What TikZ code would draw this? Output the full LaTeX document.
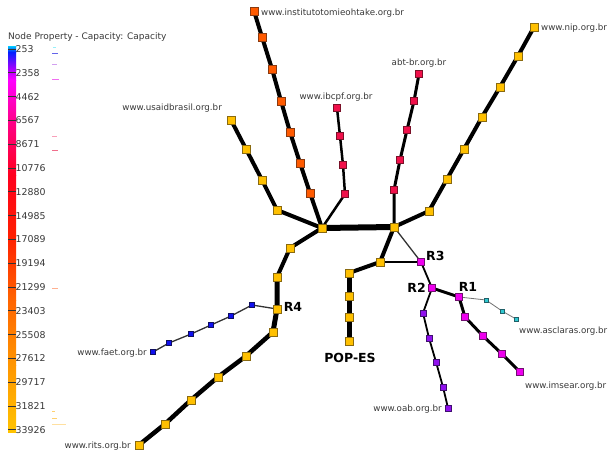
\documentclass[tikz,border=0pt]{standalone}
\usepackage{fontspec}
\setmainfont{DejaVu Sans}
\usetikzlibrary{backgrounds}

\definecolor{cAmber}{HTML}{FFC000}
\definecolor{cAmberD}{HTML}{8A6A10}
\definecolor{cOrange}{HTML}{FF5A00}
\definecolor{cOrangeD}{HTML}{8A3A10}
\definecolor{cRed}{HTML}{F0104A}
\definecolor{cRedD}{HTML}{7A1028}
\definecolor{cMag}{HTML}{EE00EE}
\definecolor{cMagD}{HTML}{701070}
\definecolor{cViol}{HTML}{9010EE}
\definecolor{cViolD}{HTML}{401070}
\definecolor{cBlue}{HTML}{1010EE}
\definecolor{cBlueD}{HTML}{101060}
\definecolor{cCyan}{HTML}{30C8D0}
\definecolor{cCyanD}{HTML}{206068}
\definecolor{cText}{HTML}{383838}

\begin{document}
\begin{tikzpicture}[x=1pt,y=-1pt,
  sq/.style={rectangle, inner sep=0pt, line width=0.5pt},
  ny/.style={sq, minimum size=8.5pt, fill=cAmber, draw=cAmberD},
  no/.style={sq, minimum size=8pt, fill=cOrange, draw=cOrangeD},
  nr/.style={sq, minimum size=7pt, fill=cRed, draw=cRedD},
  nm/.style={sq, minimum size=7pt, fill=cMag, draw=cMagD},
  nv/.style={sq, minimum size=6pt, fill=cViol, draw=cViolD},
  nb/.style={sq, minimum size=5pt, fill=cBlue, draw=cBlueD},
  nc/.style={sq, minimum size=4.5pt, fill=cCyan, draw=cCyanD},
  lbl/.style={font=\fontsize{8.7}{9.5}\selectfont, text=cText, inner sep=0pt},
  leg/.style={font=\fontsize{9.4}{10.5}\selectfont, text=cText, inner sep=0pt, anchor=west},
  rlab/.style={font=\fontsize{12.5}{14}\selectfont\bfseries, inner sep=0pt},
  link/.style={draw=black, line join=round, line cap=round},
  wXL/.style={link, line width=6pt},
  wL/.style={link, line width=5pt},
  wLM/.style={link, line width=4.5pt},
  wM/.style={link, line width=4pt},
  wMS/.style={link, line width=3pt},
  wS/.style={link, line width=2.5pt},
  wXS/.style={link, line width=1.8pt},
  wT/.style={link, line width=1.3pt, draw=black!80},
  wH/.style={link, line width=0.8pt, draw=black!55},
  tick/.style={draw=black!80, line width=0.9pt},
  hist/.style={line width=1pt}
]
\useasboundingbox (0,0) rectangle (610,455);

% ---------- colour scale legend ----------
\node[leg, font=\fontsize{9}{10}\selectfont] (ltitle) at (8,37) {Node Property - Capacity: Capacity};
\shade[top color={rgb,255:red,0;green,204;blue,255}, bottom color={rgb,255:red,0;green,32;blue,255}] (8,46) rectangle (16,52);
\shade[top color={rgb,255:red,0;green,32;blue,255}, bottom color={rgb,255:red,160;green,0;blue,255}] (8,52) rectangle (16,68);
\shade[top color={rgb,255:red,160;green,0;blue,255}, bottom color={rgb,255:red,255;green,0;blue,255}] (8,68) rectangle (16,80);
\shade[top color={rgb,255:red,255;green,0;blue,255}, bottom color={rgb,255:red,255;green,0;blue,140}] (8,80) rectangle (16,120);
\shade[top color={rgb,255:red,255;green,0;blue,140}, bottom color={rgb,255:red,255;green,0;blue,30}] (8,120) rectangle (16,175);
\shade[top color={rgb,255:red,255;green,0;blue,30}, bottom color={rgb,255:red,255;green,30;blue,0}] (8,175) rectangle (16,235);
\shade[top color={rgb,255:red,255;green,30;blue,0}, bottom color={rgb,255:red,255;green,100;blue,0}] (8,235) rectangle (16,300);
\shade[top color={rgb,255:red,255;green,100;blue,0}, bottom color={rgb,255:red,255;green,150;blue,0}] (8,300) rectangle (16,365);
\shade[top color={rgb,255:red,255;green,150;blue,0}, bottom color={rgb,255:red,255;green,195;blue,0}] (8,365) rectangle (16,432);
\foreach \v [count=\i from 0] in {253,2358,4462,6567,8671,10776,12880,14985,17089,19194,21299,23403,25508,27612,29717,31821,33926}{
  \draw[tick] (8,49+\i*23.8) -- (16,49+\i*23.8);
  \node[leg] (lv\i) at (15.5,49+\i*23.8) {\v};
}
% value marks beside the scale
\draw[hist, draw={rgb,255:red,150;green,240;blue,250}] (53,47) -- (56,47);
\draw[hist, draw={rgb,255:red,100;green,100;blue,235}] (52,53) -- (58,53);
\draw[hist, draw={rgb,255:red,210;green,160;blue,240}] (52,64) -- (57,64);
\draw[hist, draw={rgb,255:red,240;green,110;blue,240}] (52,79) -- (59,79);
\draw[hist, draw={rgb,255:red,248;green,160;blue,185}] (52,136) -- (57,136);
\draw[hist, draw={rgb,255:red,240;green,110;blue,140}] (52,150) -- (58,150);
\draw[hist, draw={rgb,255:red,255;green,176;blue,144}] (52,288) -- (58,288);
\draw[hist, draw={rgb,255:red,255;green,208;blue,112}] (52,411) -- (55,411);
\draw[hist, draw={rgb,255:red,255;green,208;blue,112}] (52,418) -- (57,418);
\draw[hist, draw={rgb,255:red,255;green,224;blue,160}] (52,424) -- (66,424);

% ---------- network nodes ----------
\node[ny] (hA) at (322,228) {};
\node[ny] (hB) at (394,227) {};
% institutotomieohtake branch
\node[no] (i1) at (254,11) {};
\node[no] (i2) at (262,37) {};
\node[no] (i3) at (272,69) {};
\node[no] (i4) at (281,101) {};
\node[no] (i5) at (290,132) {};
\node[no] (i6) at (300,163) {};
\node[no] (i7) at (310,193) {};
% usaidbrasil branch
\node[ny] (u1) at (231,120) {};
\node[ny] (u2) at (246,149) {};
\node[ny] (u3) at (262,180) {};
\node[ny] (u4) at (277,210) {};
% ibcpf branch
\node[nr] (b1) at (337,108) {};
\node[nr] (b2) at (340,136) {};
\node[nr] (b3) at (343,165) {};
\node[nr] (b4) at (345,194) {};
% abt-br branch
\node[nr] (a1) at (419,74) {};
\node[nr] (a2) at (414,101) {};
\node[nr] (a3) at (407,130) {};
\node[nr] (a4) at (400,160) {};
\node[nr] (a5) at (394,190) {};
% nip branch
\node[ny] (n1) at (534,27) {};
\node[ny] (n2) at (518,56) {};
\node[ny] (n3) at (500,87) {};
\node[ny] (n4) at (482,117) {};
\node[ny] (n5) at (464,149) {};
\node[ny] (n6) at (447,179) {};
\node[ny] (n7) at (429,211) {};
% R4 trunk and rits branch
\node[ny] (l1) at (290,248) {};
\node[ny] (l2) at (277,277) {};
\node[ny] (r4) at (277,309) {};
\node[ny] (l3) at (273,332) {};
\node[ny] (t1) at (246,356) {};
\node[ny] (t2) at (218,377) {};
\node[ny] (t3) at (191,400) {};
\node[ny] (t4) at (165,424) {};
\node[ny] (t5) at (139,445) {};
% faet branch
\node[nb] (f1) at (252,305) {};
\node[nb] (f2) at (231,316) {};
\node[nb] (f3) at (211,325) {};
\node[nb] (f4) at (191,334) {};
\node[nb] (f5) at (169,343) {};
\node[nb] (f6) at (153,352) {};
% POP-ES branch
\node[ny] (p0) at (380,262) {};
\node[ny] (p1) at (349,273) {};
\node[ny] (p2) at (349,296) {};
\node[ny] (p3) at (349,317) {};
\node[ny] (p4) at (349,341) {};
% routers R3, R2, R1
\node[nm] (r3) at (421,262) {};
\node[nm] (r2) at (432,288) {};
\node[nm] (r1) at (459,297) {};
% asclaras branch
\node[nc] (c1) at (486,300) {};
\node[nc] (c2) at (502,311) {};
\node[nc] (c3) at (516,319) {};
% imsear branch
\node[nm] (m1) at (465,317) {};
\node[nm] (m2) at (483,336) {};
\node[nm] (m3) at (502,354) {};
\node[nm] (m4) at (520,372) {};
% oab branch
\node[nv] (o1) at (423,313) {};
\node[nv] (o2) at (429,338) {};
\node[nv] (o3) at (436,362) {};
\node[nv] (o4) at (443,387) {};
\node[nv] (o5) at (448,408) {};

% ---------- links ----------
\begin{scope}[on background layer]
  \draw[wXL] (hA.center) -- (hB.center);
  \draw[wM] (hA.center) -- (i7.center) -- (i6.center) -- (i5.center) -- (i4.center) -- (i3.center) -- (i2.center) -- (i1.center);
  \draw[wM] (hA.center) -- (u4.center) -- (u3.center) -- (u2.center) -- (u1.center);
  \draw[wS] (hA.center) -- (b4.center) -- (b3.center) -- (b2.center) -- (b1.center);
  \draw[wMS] (hB.center) -- (a5.center) -- (a4.center) -- (a3.center) -- (a2.center) -- (a1.center);
  \draw[wM] (hB.center) -- (n7.center) -- (n6.center) -- (n5.center) -- (n4.center) -- (n3.center) -- (n2.center) -- (n1.center);
  \draw[wM] (hA.center) -- (l1.center) -- (l2.center);
  \draw[wL] (l2.center) -- (r4.center) -- (l3.center);
  \draw[wLM] (l3.center) -- (t1.center) -- (t2.center) -- (t3.center) -- (t4.center) -- (t5.center);
  \draw[wT] (r4.center) -- (f1.center) -- (f2.center) -- (f3.center) -- (f4.center) -- (f5.center) -- (f6.center);
  \draw[wM] (hB.center) -- (p0.center) -- (p1.center);
  \draw[wL] (p1.center) -- (p2.center) -- (p3.center) -- (p4.center);
  \draw[wT] (hB.center) -- (r3.center);
  \draw[wXS] (p0.center) -- (r3.center);
  \draw[wXS] (r3.center) -- (r2.center);
  \draw[wMS] (r2.center) -- (r1.center);
  \draw[wMS] (r1.center) -- (m1.center) -- (m2.center) -- (m3.center) -- (m4.center);
  \draw[wH] (r1.center) -- (c1.center) -- (c2.center) -- (c3.center);
  \draw[wXS] (r2.center) -- (o1.center) -- (o2.center) -- (o3.center) -- (o4.center) -- (o5.center);
\end{scope}

% ---------- labels ----------
\node[lbl, anchor=west] (tInst) at (261,13) {www.institutotomieohtake.org.br};
\node[lbl, anchor=west] (tNip) at (541,28) {www.nip.org.br};
\node[lbl] (tAbt) at (419,63) {abt-br.org.br};
\node[lbl] (tIbc) at (336,97) {www.ibcpf.org.br};
\node[lbl, anchor=east] (tUsa) at (222,108) {www.usaidbrasil.org.br};
\node[lbl, anchor=west] (tAsc) at (519,331) {www.asclaras.org.br};
\node[lbl, anchor=west] (tIms) at (525,386) {www.imsear.org.br};
\node[lbl, anchor=east] (tOab) at (442,409) {www.oab.org.br};
\node[lbl, anchor=east] (tFae) at (147,353) {www.faet.org.br};
\node[lbl, anchor=east] (tRit) at (131,446) {www.rits.org.br};
\node[rlab, anchor=west] (tR3) at (426,256) {R3};
\node[rlab, anchor=east] (tR2) at (426,288) {R2};
\node[rlab] (tR1) at (468,287) {R1};
\node[rlab] (tR4) at (293,307) {R4};
\node[rlab] (tPop) at (350,358) {POP-ES};
\end{tikzpicture}
\end{document}
